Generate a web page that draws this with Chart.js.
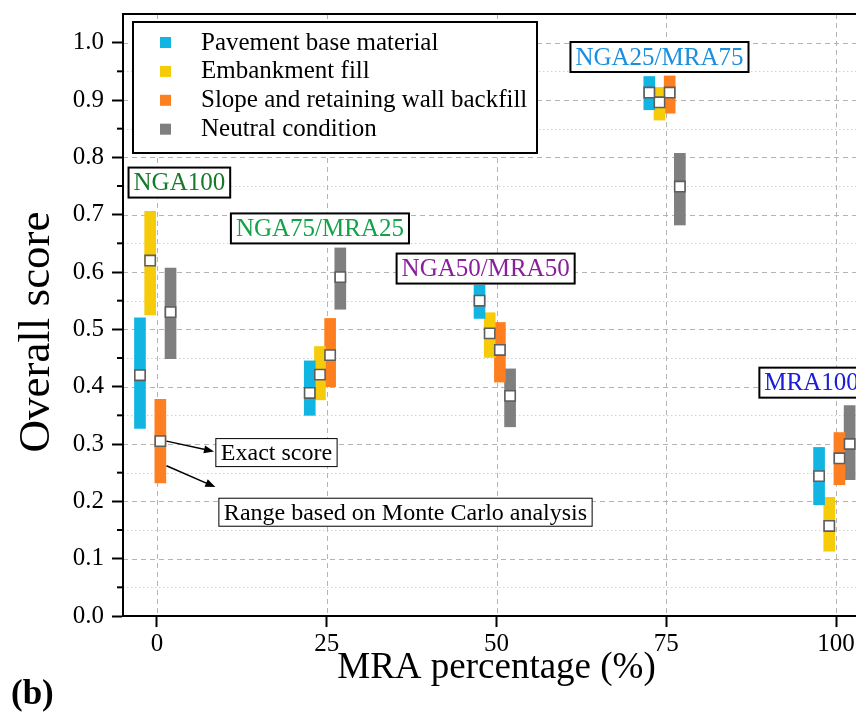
<!DOCTYPE html>
<html>
<head>
<meta charset="utf-8">
<title>Overall score vs MRA percentage</title>
<script src="https://cdn.jsdelivr.net/npm/chart.js@4.4.1/dist/chart.umd.min.js"></script>
<style>
  html, body { margin: 0; padding: 0; background: #fff; overflow: hidden; }
  #wrap { width: 856px; height: 713px; overflow: hidden; }
</style>
</head>
<body>
<div id="wrap"><canvas id="chart" width="900" height="713"></canvas></div>
<script>
// MRA percentage groups and per-series x offset inside a group
const groups = [0, 25, 50, 75, 100];
const seriesOffsets = [-2.5, -1, 0.5, 2];

const seriesNames = ['Pavement base material', 'Embankment fill', 'Slope and retaining wall backfill', 'Neutral condition'];
const seriesColors = ['#12b5e2', '#f5cb0a', '#fd7f1f', '#7f7f7f'];

// Monte Carlo ranges (low / high) and exact scores
const pavementLow   = [0.327, 0.350, 0.519, 0.883, 0.194];
const pavementHigh  = [0.520, 0.445, 0.577, 0.941, 0.294];
const pavementExact = [0.420, 0.389, 0.550, 0.913, 0.244];

const embankmentLow   = [0.525, 0.377, 0.451, 0.865, 0.113];
const embankmentHigh  = [0.706, 0.470, 0.529, 0.922, 0.207];
const embankmentExact = [0.620, 0.421, 0.493, 0.896, 0.157];

const slopeLow   = [0.232, 0.400, 0.408, 0.877, 0.229];
const slopeHigh  = [0.378, 0.519, 0.512, 0.942, 0.320];
const slopeExact = [0.305, 0.455, 0.464, 0.913, 0.275];

const neutralLow   = [0.449, 0.535, 0.330, 0.682, 0.238];
const neutralHigh  = [0.607, 0.642, 0.431, 0.807, 0.367];
const neutralExact = [0.530, 0.591, 0.384, 0.749, 0.300];

const groupLabels = ['NGA100', 'NGA75/MRA25', 'NGA50/MRA50', 'NGA25/MRA75', 'MRA100'];

const xTicks = [0, 25, 50, 75, 100];
const yTicks = [0, 0.1, 0.2, 0.3, 0.4, 0.5, 0.6, 0.7, 0.8, 0.9, 1.0];
const yMinorTicks = [0.05, 0.15, 0.25, 0.35, 0.45, 0.55, 0.65, 0.75, 0.85, 0.95];

const lows = [pavementLow, embankmentLow, slopeLow, neutralLow];
const highs = [pavementHigh, embankmentHigh, slopeHigh, neutralHigh];
const exacts = [pavementExact, embankmentExact, slopeExact, neutralExact];

const SERIF = '"Liberation Serif", "Times New Roman", serif';

// label boxes, placed in data coordinates
const groupLabelStyle = [
  { x: 3.3, y: 0.756, color: '#177a2b' },
  { x: 24, y: 0.676, color: '#12a347' },
  { x: 48.4, y: 0.606, color: '#8a1f9c' },
  { x: 74, y: 0.975, color: '#1a8fe0' },
  { x: 96.4, y: 0.407, color: '#1c20d2' }
];

const barDatasets = seriesNames.map((name, s) => ({
  type: 'bar',
  label: name,
  data: groups.map((g, i) => ({ x: g + seriesOffsets[s], y: [lows[s][i], highs[s][i]] })),
  backgroundColor: seriesColors[s],
  borderWidth: 0,
  barThickness: 11,
  grouped: false,
  order: 2
}));

const markerDatasets = seriesNames.map((name, s) => ({
  type: 'scatter',
  label: name + ' (exact)',
  data: groups.map((g, i) => ({ x: g + seriesOffsets[s], y: exacts[s][i] })),
  pointStyle: 'rect',
  pointRadius: 7.3,
  pointHoverRadius: 7.3,
  pointBackgroundColor: '#ffffff',
  pointBorderColor: '#5e5e5e',
  pointBorderWidth: 1.6,
  showLine: false,
  order: 0
}));

function textBox(ctx, text, cx, cy, font, color, lineW, h) {
  ctx.font = font;
  const w = ctx.measureText(text).width + 10;
  ctx.fillStyle = '#fff';
  ctx.fillRect(cx - w / 2, cy - h / 2, w, h);
  ctx.lineWidth = lineW;
  ctx.strokeStyle = '#000';
  ctx.strokeRect(cx - w / 2, cy - h / 2, w, h);
  ctx.fillStyle = color;
  ctx.textAlign = 'center';
  ctx.textBaseline = 'middle';
  ctx.fillText(text, cx, cy + 1);
}

function arrow(ctx, x1, y1, x2, y2) {
  const ang = Math.atan2(y2 - y1, x2 - x1);
  ctx.strokeStyle = '#000';
  ctx.fillStyle = '#000';
  ctx.lineWidth = 1.5;
  ctx.beginPath();
  ctx.moveTo(x1, y1);
  ctx.lineTo(x2 - 8 * Math.cos(ang), y2 - 8 * Math.sin(ang));
  ctx.stroke();
  ctx.beginPath();
  ctx.moveTo(x2, y2);
  ctx.lineTo(x2 - 10 * Math.cos(ang) + 4 * Math.sin(ang), y2 - 10 * Math.sin(ang) - 4 * Math.cos(ang));
  ctx.lineTo(x2 - 10 * Math.cos(ang) - 4 * Math.sin(ang), y2 - 10 * Math.sin(ang) + 4 * Math.cos(ang));
  ctx.closePath();
  ctx.fill();
}

const overlay = {
  id: 'overlay',
  beforeDatasetsDraw(chart) {
    const { ctx, chartArea: a, scales: { x, y } } = chart;
    ctx.save();
    ctx.lineWidth = 1;
    ctx.strokeStyle = '#d2d2d2';
    ctx.setLineDash([1.5, 2.5]);
    yMinorTicks.forEach(v => {
      const p = Math.round(y.getPixelForValue(v)) + 0.5;
      ctx.beginPath(); ctx.moveTo(a.left, p); ctx.lineTo(a.right, p); ctx.stroke();
    });
    ctx.strokeStyle = '#b4b4b4';
    ctx.setLineDash([5, 4]);
    yTicks.filter(v => v > 0).forEach(v => {
      const p = Math.round(y.getPixelForValue(v)) + 0.5;
      ctx.beginPath(); ctx.moveTo(a.left, p); ctx.lineTo(a.right, p); ctx.stroke();
    });
    xTicks.forEach(v => {
      const p = Math.round(x.getPixelForValue(v)) + 0.5;
      ctx.beginPath(); ctx.moveTo(p, a.top); ctx.lineTo(p, a.bottom); ctx.stroke();
    });
    ctx.restore();
  },
  afterDatasetsDraw(chart) {
    const { ctx, chartArea: a, scales: { x, y } } = chart;
    ctx.save();
    // frame
    ctx.strokeStyle = '#000';
    ctx.lineWidth = 2;
    ctx.strokeRect(a.left, a.top, a.right - a.left, a.bottom - a.top);
    // minor y ticks
    yMinorTicks.forEach(v => {
      const p = y.getPixelForValue(v);
      ctx.beginPath(); ctx.moveTo(a.left - 6, p); ctx.lineTo(a.left, p); ctx.stroke();
    });

    // legend box
    const lx = a.left + 10, ly = a.top + 8, lw = 404, lh = 131;
    ctx.fillStyle = '#fff';
    ctx.fillRect(lx, ly, lw, lh);
    ctx.lineWidth = 2;
    ctx.strokeRect(lx, ly, lw, lh);
    ctx.font = '25px ' + SERIF;
    ctx.textAlign = 'left';
    ctx.textBaseline = 'middle';
    seriesNames.forEach((name, s) => {
      const cy = ly + 20 + s * 28.9;
      ctx.fillStyle = seriesColors[s];
      ctx.fillRect(lx + 27, cy - 5, 11, 11);
      ctx.fillStyle = '#000';
      ctx.fillText(name, lx + 68, cy + 1);
    });

    // group labels
    groupLabels.forEach((t, i) => {
      const st = groupLabelStyle[i];
      textBox(ctx, t, x.getPixelForValue(st.x), y.getPixelForValue(st.y), '25px ' + SERIF, st.color, 2, 30);
    });

    // explanation boxes + arrows
    const ex = x.getPixelForValue(17.6), ey = y.getPixelForValue(0.285);
    textBox(ctx, 'Exact score', ex, ey, '24px ' + SERIF, '#000', 1, 28);
    const rx = x.getPixelForValue(36.6), ry = y.getPixelForValue(0.181);
    textBox(ctx, 'Range based on Monte Carlo analysis', rx, ry, '24px ' + SERIF, '#000', 1, 28);
    arrow(ctx, x.getPixelForValue(1.4), y.getPixelForValue(0.305), x.getPixelForValue(8.4), y.getPixelForValue(0.287));
    arrow(ctx, x.getPixelForValue(1.4), y.getPixelForValue(0.262), x.getPixelForValue(8.6), y.getPixelForValue(0.225));

    // y axis title
    ctx.fillStyle = '#000';
    ctx.font = '45px ' + SERIF;
    ctx.textAlign = 'center';
    ctx.textBaseline = 'middle';
    ctx.translate(37, 332);
    ctx.rotate(-Math.PI / 2);
    ctx.fillText('Overall score', 0, 0);
    ctx.setTransform(1, 0, 0, 1, 0, 0);

    // panel letter
    ctx.font = 'bold 35px ' + SERIF;
    ctx.textAlign = 'left';
    ctx.textBaseline = 'alphabetic';
    ctx.fillText('(b)', 11, 704);
    ctx.restore();
  }
};

new Chart(document.getElementById('chart'), {
  type: 'bar',
  data: { datasets: [...barDatasets, ...markerDatasets] },
  options: {
    responsive: false,
    animation: false,
    events: [],
    layout: { padding: { left: 0, top: 14, right: 30, bottom: 0 } },
    plugins: { legend: { display: false }, tooltip: { enabled: false } },
    scales: {
      x: {
        type: 'linear',
        min: -5,
        max: 105,
        offset: false,
        afterFit: s => { s.height = 97; s.paddingLeft = 0; s.paddingRight = 0; },
        afterBuildTicks: s => { s.ticks = xTicks.map(v => ({ value: v })); },
        grid: { display: true, drawOnChartArea: false, offset: false, tickLength: 11, tickWidth: 2, tickColor: '#000' },
        border: { color: '#000', width: 2 },
        ticks: { color: '#000', font: { family: SERIF, size: 25 }, padding: 2, maxRotation: 0 },
        title: { display: true, text: 'MRA percentage (%)', color: '#000', font: { family: SERIF, size: 37 }, padding: { top: 0, bottom: 23 } }
      },
      y: {
        min: 0,
        max: 1.05,
        afterFit: s => { s.width = 123; s.paddingTop = 0; s.paddingBottom = 0; },
        afterBuildTicks: s => { s.ticks = yTicks.map(v => ({ value: v })); },
        grid: { drawOnChartArea: false, tickLength: 11, tickWidth: 2, tickColor: '#000' },
        border: { color: '#000', width: 2 },
        ticks: { color: '#000', font: { family: SERIF, size: 25 }, padding: 8, callback: v => v.toFixed(1) },
        title: { display: false }
      }
    }
  },
  plugins: [overlay]
});
</script>
</body>
</html>
